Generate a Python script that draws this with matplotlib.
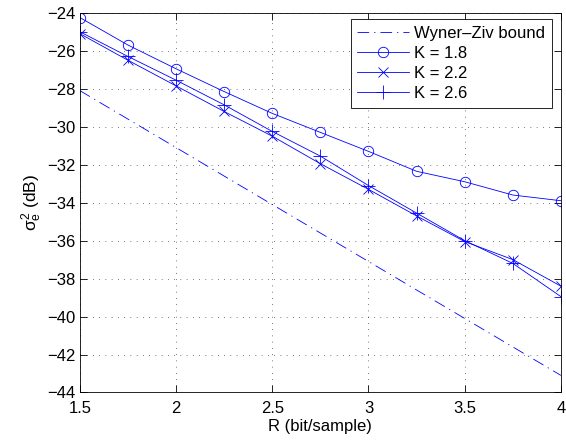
import numpy as np
import matplotlib
matplotlib.use("Agg")
import matplotlib.pyplot as plt

plt.rcParams['font.family'] = ['Liberation Sans', 'DejaVu Sans']
plt.rcParams['mathtext.fontset'] = 'custom'
plt.rcParams['mathtext.rm'] = 'Liberation Sans'
plt.rcParams['mathtext.it'] = 'Liberation Sans'

# rate axis
rate = [1.5, 1.75, 2.0, 2.25, 2.5, 2.75, 3.0, 3.25, 3.5, 3.75, 4.0]

# distortion curves (dB)
wyner_ziv = [-28.1, -29.6, -31.1, -32.6, -34.1, -35.6, -37.1, -38.6, -40.1, -41.6, -43.1]
k18 = [-24.25, -25.7, -26.95, -28.15, -29.3, -30.3, -31.3, -32.35, -32.9, -33.6, -33.9]
k22 = [-25.1, -26.5, -27.85, -29.2, -30.5, -31.95, -33.3, -34.7, -36.05, -37.0, -38.4]
k26 = [-25.0, -26.3, -27.55, -28.85, -30.25, -31.55, -33.1, -34.55, -36.0, -37.2, -38.95]

labels = ['Wyner\u2013Ziv bound', 'K = 1.8', 'K = 2.2', 'K = 2.6']

fig = plt.figure(figsize=(5.66, 4.40), dpi=100)
ax = fig.add_axes([0.141, 0.108, 0.85, 0.863])

blue = (0, 0, 1)
ax.plot(rate, wyner_ziv, color=blue, lw=0.6, ls=(0, (14, 6, 1.5, 6)), label=labels[0])
ax.plot(rate, k18, '-o', color=blue, lw=0.6, ms=7.5, mfc='none', mew=0.6, label=labels[1])
ax.plot(rate, k22, '-x', color=blue, lw=0.6, ms=6.5, mew=0.6, label=labels[2])
ax.plot(rate, k26, '-+', color=blue, lw=0.6, ms=10, mew=0.6, label=labels[3])

ax.set_xlim(1.5, 4)
ax.set_ylim(-44, -24)
ax.set_xticks(np.arange(1.5, 4.01, 0.5))
ax.set_xticklabels(['1.5', '2', '2.5', '3', '3.5', '4'])
ax.set_yticks(np.arange(-44, -23, 2))
ax.tick_params(direction='in', top=True, right=True, labelsize=12, length=5, width=0.6)
ax.tick_params(axis='x', pad=6)
ax.tick_params(axis='y', pad=3)
ax.grid(True, linestyle=(0, (1, 8)), color='black', lw=0.5)
for s in ax.spines.values():
    s.set_linewidth(0.6)

ax.set_xlabel('R (bit/sample)', fontsize=12, labelpad=2)
ax.set_ylabel(r'$\sigma_e^2$ (dB)', fontsize=12.5, labelpad=2)

leg = ax.legend(loc='upper right', bbox_to_anchor=(0.981, 0.983), borderaxespad=0,
                fontsize=12, handlelength=3.1, fancybox=False,
                edgecolor='black', framealpha=1,
                labelspacing=0.3, handletextpad=0.3, borderpad=0.4)
leg.get_frame().set_linewidth(0.6)

fig.savefig('out.png', dpi=100)
